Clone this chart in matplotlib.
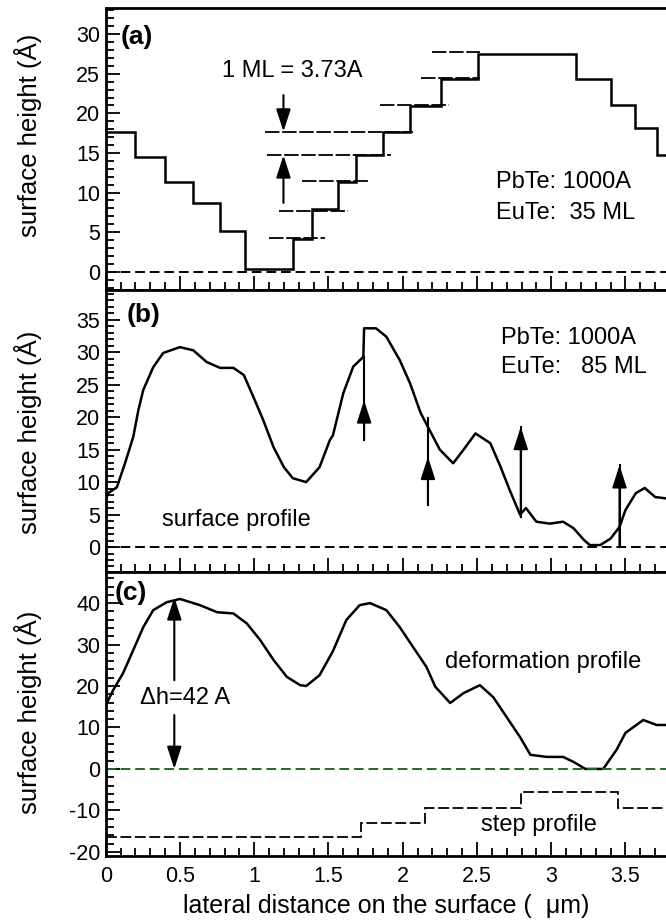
import numpy as np
import matplotlib
matplotlib.use("Agg")
import matplotlib.pyplot as plt
from matplotlib.ticker import MultipleLocator, FuncFormatter

plt.rcParams['font.family'] = ['Liberation Sans', 'DejaVu Sans']
plt.rcParams['axes.unicode_minus'] = False

# ---------------- data ----------------
# panel (a): staircase surface profile (step edges and levels)
a_edges = [0.0, 0.20, 0.40, 0.586, 0.77, 0.94, 1.26, 1.39, 1.565, 1.686, 1.867,
           2.05, 2.26, 2.51, 3.17, 3.40, 3.565, 3.71, 3.90]
a_levels = [17.7, 14.5, 11.3, 8.7, 5.1, 0.3, 4.2, 7.9, 11.3, 14.7, 17.7,
            20.9, 24.3, 27.5, 24.3, 21.0, 18.1, 14.8]
# reference monolayer lines in (a)
ref_y = [4.3, 7.7, 11.4, 14.7, 17.7, 21.0, 24.4, 27.7]
ref_x0 = [1.10, 1.17, 1.32, 1.086, 1.07, 1.85, 2.12, 2.20]
ref_x1 = [1.48, 1.63, 1.78, 1.92, 2.07, 2.31, 2.52, 2.52]

# panel (b): surface profile
b_x = [0.0, 0.016, 0.075, 0.13, 0.186, 0.22, 0.253, 0.32, 0.387, 0.50, 0.59, 0.68,
       0.77, 0.86, 0.93, 0.995, 1.06, 1.13, 1.20, 1.26, 1.35, 1.44, 1.51, 1.53,
       1.60, 1.667, 1.735, 1.74, 1.82, 1.89, 1.98, 2.05, 2.12, 2.17, 2.25, 2.34,
       2.41, 2.49, 2.59, 2.66, 2.72, 2.79, 2.83, 2.90, 2.99, 3.08, 3.15, 3.22,
       3.26, 3.33, 3.40, 3.46, 3.50, 3.57, 3.63, 3.70, 3.77, 3.85]
b_y = [7.2, 8.3, 9.2, 12.9, 17.0, 21.1, 24.2, 27.7, 29.9, 30.8, 30.3, 28.5,
       27.6, 27.6, 26.5, 23.1, 19.6, 15.4, 12.3, 10.6, 10.0, 12.3, 16.5, 17.2,
       23.7, 27.8, 29.3, 33.7, 33.7, 32.4, 28.8, 25.2, 20.7, 18.5, 15.0, 12.9,
       15.0, 17.5, 16.0, 12.3, 8.8, 5.0, 6.0, 3.9, 3.6, 3.9, 2.9, 1.1,
       0.3, 0.3, 1.3, 3.1, 5.7, 8.3, 9.1, 7.7, 7.5, 7.4]

# panel (c): deformation profile
c_x = [0.0, 0.008, 0.05, 0.117, 0.186, 0.253, 0.32, 0.41, 0.50, 0.635, 0.75, 0.86,
       0.95, 1.04, 1.13, 1.22, 1.31, 1.35, 1.44, 1.53, 1.62, 1.71, 1.78, 1.89,
       1.98, 2.07, 2.16, 2.22, 2.32, 2.41, 2.52, 2.61, 2.70, 2.79, 2.86, 2.97,
       3.08, 3.15, 3.23, 3.35, 3.44, 3.50, 3.62, 3.71, 3.77, 3.85]
c_y = [15.5, 15.9, 19.0, 23.1, 28.7, 34.2, 38.3, 40.2, 41.0, 39.5, 37.8, 37.5,
       35.1, 31.1, 26.3, 22.2, 20.2, 20.0, 22.6, 28.4, 35.9, 39.5, 40.0, 38.3,
       34.2, 29.4, 24.6, 19.8, 15.9, 18.3, 20.2, 17.3, 12.5, 7.7, 3.4, 2.9,
       2.9, 1.7, 0.0, 0.0, 4.6, 8.7, 11.8, 10.6, 10.6, 10.5]

# panel (c): step profile
s_edges = [0.0, 1.72, 2.15, 2.795, 3.45, 3.90]
s_levels = [-16.4, -13.1, -9.4, -5.6, -9.4]

# arrows in (b): x, tail y, tip y, shaft top
b_arrow_x = [1.74, 2.17, 2.795, 3.46]
b_arrow_tail = [16.5, 6.5, 4.6, 0.0]
b_arrow_tip = [22.6, 13.9, 18.5, 12.6]
b_arrow_top = [29.3, 19.9, 18.5, 12.6]

# ---------------- figure ----------------
W, H = 666, 924
fig = plt.figure(figsize=(W / 100, H / 100), dpi=100)

left = 105.7 / W
width = 4.0 * 148.5 / W

def pos(top_px, bot_px):
    return [left, 1 - bot_px / H, width, (bot_px - top_px) / H]

axa = fig.add_axes(pos(8, 290))
axb = fig.add_axes(pos(290, 572))
axc = fig.add_axes(pos(572, 856))

TICKFS = 15.5
TXTFS = 17

for ax in (axa, axb, axc):
    ax.set_xlim(0, 4)
    ax.xaxis.set_major_locator(MultipleLocator(0.5))
    ax.xaxis.set_minor_locator(MultipleLocator(0.1))
    ax.tick_params(which='both', direction='in', top=False, right=False,
                   width=1.3, labelsize=TICKFS, pad=4)
    ax.tick_params(which='major', length=10)
    ax.tick_params(which='minor', length=6)
    for s in ax.spines.values():
        s.set_linewidth(2.0)
    ax.spines['right'].set_visible(False)

axa.tick_params(axis='x', labelbottom=False)
axb.tick_params(axis='x', labelbottom=False)
axc.tick_params(axis='x', pad=7)
axc.xaxis.set_major_formatter(FuncFormatter(lambda v, p: f"{v:g}" if v < 3.8 else ""))

lw = 1.8

# ---- (a)
axa.set_ylim(-2.3, 33.3)
axa.yaxis.set_major_locator(MultipleLocator(5))
axa.yaxis.set_minor_locator(MultipleLocator(1))
axa.stairs(a_levels, a_edges, color='k', lw=lw, baseline=None)
axa.axhline(0, color='k', lw=1.4, dashes=(5, 2.5))
for y, x0, x1 in zip(ref_y, ref_x0, ref_x1):
    axa.plot([x0, x1], [y, y], color='k', lw=1.3, dashes=(8, 1.5))
aprops = dict(arrowstyle='-|>,head_length=0.68,head_width=0.22', color='k',
              lw=1.5, mutation_scale=20, shrinkA=0, shrinkB=0)
axa.annotate('', xy=(1.197, 17.7), xytext=(1.197, 22.3), arrowprops=aprops)
axa.annotate('', xy=(1.197, 14.7), xytext=(1.197, 8.7), arrowprops=aprops)
axa.text(0.785, 25.4, '1 ML = 3.73A', fontsize=TXTFS, ha='left', va='center')
axa.text(2.63, 11.3, 'PbTe: 1000A', fontsize=TXTFS, ha='left', va='center')
axa.text(2.63, 7.4, 'EuTe:  35 ML', fontsize=TXTFS, ha='left', va='center')
axa.text(0.10, 29.6, '(a)', fontsize=19, fontweight='bold', ha='left', va='center')

# ---- (b)
axb.set_ylim(-3.85, 39.6)
axb.yaxis.set_major_locator(MultipleLocator(5))
axb.yaxis.set_minor_locator(MultipleLocator(1))
axb.plot(b_x, b_y, color='k', lw=lw)
axb.axhline(0, color='k', lw=1.4, dashes=(5, 2.5))
for x, t0, tip, top in zip(b_arrow_x, b_arrow_tail, b_arrow_tip, b_arrow_top):
    axb.plot([x, x], [t0, top], color='k', lw=1.5)
    axb.annotate('', xy=(x, tip), xytext=(x, t0), arrowprops=aprops)
axb.text(2.66, 32.2, 'PbTe: 1000A', fontsize=TXTFS, ha='left', va='center')
axb.text(2.66, 27.7, 'EuTe:   85 ML', fontsize=TXTFS, ha='left', va='center')
axb.text(0.38, 4.2, 'surface profile', fontsize=TXTFS, ha='left', va='center')
axb.text(0.143, 35.7, '(b)', fontsize=19, fontweight='bold', ha='left', va='center')

# ---- (c)
axc.set_ylim(-21, 47.5)
axc.yaxis.set_major_locator(MultipleLocator(10))
axc.yaxis.set_minor_locator(MultipleLocator(2))
axc.plot(c_x, c_y, color='k', lw=lw)
axc.axhline(0, color='#1f6b24', lw=1.4, dashes=(5, 2.5))
axc.stairs(s_levels, s_edges, color='k', lw=1.3, baseline=None, linestyle=(0, (6, 2)))
axc.annotate('', xy=(0.462, 41.4), xytext=(0.462, 21.4), arrowprops=aprops)
axc.annotate('', xy=(0.462, 0.0), xytext=(0.462, 13.0), arrowprops=aprops)
axc.text(0.23, 17.1, '\u0394h=42 A', fontsize=TXTFS, ha='left', va='center')
axc.text(2.285, 25.8, 'deformation profile', fontsize=TXTFS, ha='left', va='center')
axc.text(2.53, -13.5, 'step profile', fontsize=TXTFS, ha='left', va='center')
axc.text(0.063, 42.4, '(c)', fontsize=19, fontweight='bold', ha='left', va='center')

# axis labels
for cy in (135, 432, 712):
    fig.text(28 / W, 1 - cy / H, 'surface height (\u00c5)', rotation=90,
             fontsize=18.5, ha='center', va='center')
fig.text(386 / W, 1 - 906 / H, 'lateral distance on the surface (  \u03bcm)',
         fontsize=18, ha='center', va='center')

fig.savefig('out.png', dpi=100)
